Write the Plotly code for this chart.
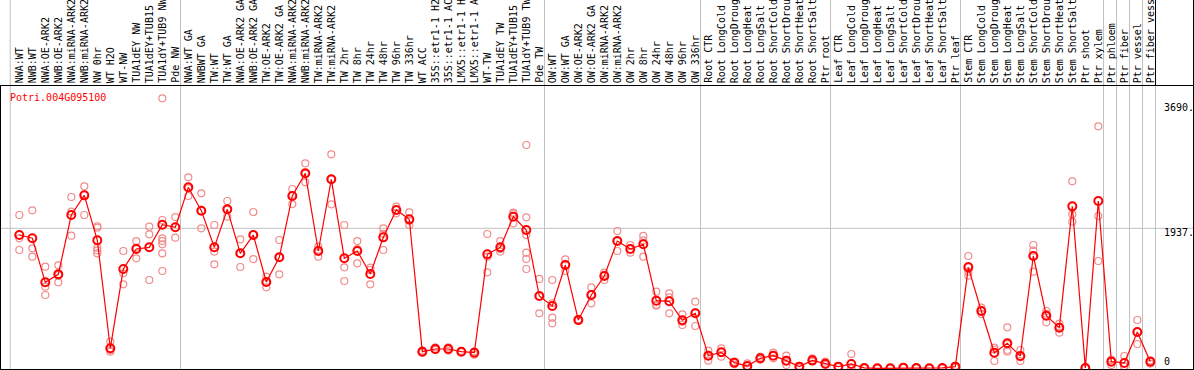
import plotly.graph_objects as go

title_text = "Potri.004G095100"

labels = [
    "NWA:WT", "NWB:WT", "NWA:OE-ARK2", "NWB:OE-ARK2", "NWA:miRNA-ARK2", "NWB:miRNA-ARK2",
    "NW 0hr", "WT H2O", "WT-NW", "TUA1dEY NW", "TUA1dEY+TUB15", "TUA1dY+TUB9 NW", "Pde NW",
    "NWA:WT GA", "NWBWT GA", "TW:WT", "TW:WT GA", "NWA:OE-ARK2 GA", "NWB:OE-ARK2 GA",
    "TW:OE-ARK2", "TW:OE-ARK2 GA", "NWA:miRNA-ARK2", "NWB:miRNA-ARK2", "TW:miRNA-ARK2",
    "TW:miRNA-ARK2", "TW 2hr", "TW 8hr", "TW 24hr", "TW 48hr", "TW 96hr", "TW 336hr",
    "WT ACC", "35S::etr1-1 H2", "35S::etr1-1 AC", "LMX5::etr1-1 H", "LMX5::etr1-1 A",
    "WT-TW", "TUA1dEY TW", "TUA1dEY+TUB15", "TUA1dY+TUB9 TW", "Pde TW",
    "OW:WT", "OW:WT GA", "OW:OE-ARK2", "OW:OE-ARK2 GA", "OW:miRNA-ARK2", "OW:miRNA-ARK2",
    "OW 2hr", "OW 8hr", "OW 24hr", "OW 48hr", "OW 96hr", "OW 336hr",
    "Root CTR", "Root LongCold", "Root LongDroug", "Root LongHeat", "Root LongSalt",
    "Root ShortCold", "Root ShortDrou", "Root ShortHeat", "Root ShortSalt", "Ptr root",
    "Leaf CTR", "Leaf LongCold", "Leaf LongDroug", "Leaf LongHeat", "Leaf LongSalt",
    "Leaf ShortCold", "Leaf ShortDrou", "Leaf ShortHeat", "Leaf ShortSalt", "Ptr leaf",
    "Stem CTR", "Stem LongCold", "Stem LongDroug", "Stem LongHeat", "Stem LongSalt",
    "Stem ShortCold", "Stem ShortDrou", "Stem ShortHeat", "Stem ShortSalt", "Ptr shoot",
    "Ptr xylem", "Ptr phloem", "Ptr fiber", "Ptr vessel", "Ptr fiber vess",
]

means = [
    1844, 1799, 1190, 1300, 2121, 2393, 1771, 277, 1374, 1651, 1674, 1987, 1951,
    2504, 2181, 1674, 2200, 1591, 1844, 1194, 1536, 2384, 2698, 1623, 2615, 1522,
    1623, 1305, 1812, 2190, 2061, 230, 267, 267, 230, 216, 1577, 1674, 2098, 1914,
    1000, 862, 1429, 668, 1014, 1277, 1761, 1651, 1716, 936, 927, 664, 761,
    175, 221, 78, 32, 138, 175, 106, 23, 110, 64,
    23, 60, 5, 0, 0, 9, 5, 0, 5, 23,
    1397, 793, 216, 346, 170, 1554, 728, 562, 2241, 5, 2315,
    92, 74, 502, 92,
]

replicates = [
    [2121, 1799, 1637], [2186, 1660, 1544], [1406, 1129, 1014], [1425, 1190, 1290],
    [2370, 2167, 1835], [2518, 2121, 2400], [1965, 1945, 1669, 1633, 1591], [369, 253, 230],
    [1623, 1314, 1162], [1761, 1522, 1670], [1960, 1854, 1222],
    [3736, 2052, 1799, 1760, 1716, 1591, 1346], [2093, 1807],
    [2643, 2384, 2490], [2421, 1937, 2180], [1983, 1614, 1439], [2315, 2098, 2190],
    [1785, 1402, 1590], [2163, 1512, 1850], [1268, 1121, 1190], [1775, 1300, 1536],
    [2481, 2273, 2400], [2836, 2573, 2690], [1683, 1544, 1640], [2961, 2269, 2615],
    [1983, 1397, 1208], [1761, 1453, 1650], [1392, 1162, 1360], [1937, 1637, 1860],
    [2236, 2144, 2190], [2158, 1983, 2040], [230, 245, 215], [290, 253, 260],
    [290, 245, 267], [240, 222, 230], [230, 188, 230], [1858, 1328, 1545],
    [1761, 1614, 1650], [2153, 2006, 2135], [3090, 2089, 1844, 1600, 1512, 1374],
    [1236, 761, 1000], [1222, 700, 623, 900], [1508, 1346, 1430], [668, 680, 655],
    [1121, 899, 1020], [1323, 1222, 1290], [1900, 1623, 1760], [1706, 1600, 1650],
    [1831, 1544, 1770], [1060, 866, 880], [1038, 761, 980], [747, 599, 645],
    [922, 585, 775], [244, 175, 105], [277, 161, 225], [92, 55, 85], [69, 30, 0],
    [161, 120, 135], [216, 138, 170], [175, 46, 100], [23, 10, 35], [138, 100, 92],
    [92, 55, 46], [23, 15, 30], [198, 0, 0], [5, 0, 10], [0, 0, 0], [0, 0, 0],
    [9, 5, 14], [5, 0, 10], [0, 0, 0], [5, 0, 10], [23, 10, 35],
    [1554, 1337, 1282, 1415], [839, 793, 750], [285, 101, 260], [567, 253, 230, 335],
    [253, 101, 155], [1706, 1627, 1337, 1554], [793, 636, 755], [618, 493, 575],
    [2587, 2131, 2029], [5, 0, 10], [3348, 2107, 1485],
    [120, 46, 110], [170, 28, 25], [668, 336, 502], [110, 65, 100],
]

group_separators = [-0.7, 12.4, 40.4, 52.4, 62.4, 72.4, 83.4, 84.4, 85.4, 86.4, 87.4]
axis_marks = [3690, 1937, 0]
axis_mark_text = ["3690.", "1937.", "0"]

W, H = 1194, 370
FONT = "DejaVu Sans Mono"


def py(p):  # pixel row -> paper y
    return 1 - p / H


def px(p):  # pixel column -> paper x
    return p / W


xs = list(range(len(means)))
rep_x, rep_y = [], []
for i, reps in enumerate(replicates):
    for v in reps:
        rep_x.append(i)
        rep_y.append(v)

fig = go.Figure()
fig.add_trace(go.Scatter(
    x=rep_x, y=rep_y, mode="markers",
    marker=dict(symbol="circle-open", size=7, color="rgb(240,140,140)",
                line=dict(width=1.2, color="rgb(240,140,140)")),
    hoverinfo="skip", showlegend=False, cliponaxis=False,
))
fig.add_trace(go.Scatter(
    x=xs, y=means, mode="lines+markers",
    line=dict(color="#ff0000", width=1.2),
    marker=dict(symbol="circle-open", size=8, color="#ff0000",
                line=dict(width=2, color="#ff0000")),
    showlegend=False, cliponaxis=False,
))

shapes = []
for s in group_separators:
    shapes.append(dict(type="line", xref="x", yref="paper", x0=s, x1=s, y0=0, y1=1,
                       line=dict(color="#c0c0c0", width=1), layer="below"))
shapes.append(dict(type="line", xref="paper", yref="y", x0=0, x1=px(1193), y0=1937, y1=1937,
                   line=dict(color="#c0c0c0", width=1), layer="below"))
black = dict(color="#000000", width=1)
shapes += [
    dict(type="line", xref="paper", yref="paper", x0=0, x1=px(1194), y0=py(85.5), y1=py(85.5), line=black),
    dict(type="line", xref="paper", yref="paper", x0=0, x1=px(1194), y0=py(369.5), y1=py(369.5), line=black),
    dict(type="line", xref="paper", yref="paper", x0=px(0.5), x1=px(0.5), y0=py(85.5), y1=py(369.5), line=black),
    dict(type="line", xref="paper", yref="paper", x0=px(1193.5), x1=px(1193.5), y0=py(0), y1=py(369.5), line=black),
    dict(type="line", xref="x", yref="paper", x0=group_separators[-1], x1=group_separators[-1],
         y0=py(85.5), y1=1, line=black),
]

annotations = []
for i, lab in enumerate(labels):
    annotations.append(dict(
        x=i, xref="x", y=py(84), yref="paper", text=lab, showarrow=False,
        textangle=-90, xanchor="center", yanchor="bottom", borderpad=0,
        font=dict(family=FONT, size=10, color="#000000"),
    ))
annotations.append(dict(
    x=px(8.5), xref="paper", y=py(97), yref="paper", text=title_text, showarrow=False,
    xanchor="left", yanchor="middle", borderpad=0,
    font=dict(family=FONT, size=10, color="#ff0000"),
))
shifts = [-6, -4, 6.5]
for v, t, sh in zip(axis_marks, axis_mark_text, shifts):
    annotations.append(dict(
        x=px(1163), xref="paper", y=v, yref="y", text=t, showarrow=False,
        xanchor="left", yanchor="middle", yshift=sh, borderpad=0,
        font=dict(family=FONT, size=10, color="#000000"),
    ))

fig.update_layout(
    width=W, height=H,
    margin=dict(l=0, r=0, t=0, b=0, pad=0),
    paper_bgcolor="white", plot_bgcolor="white",
    xaxis=dict(range=[-1.485, 90.36], visible=False, fixedrange=True),
    yaxis=dict(range=[-23.5, 5096], visible=False, fixedrange=True),
    shapes=shapes, annotations=annotations, showlegend=False,
)

fig.write_html(
    "out.html",
    config={"displayModeBar": False},
    post_script="document.body.style.margin='0';document.body.style.overflow='hidden';",
)
